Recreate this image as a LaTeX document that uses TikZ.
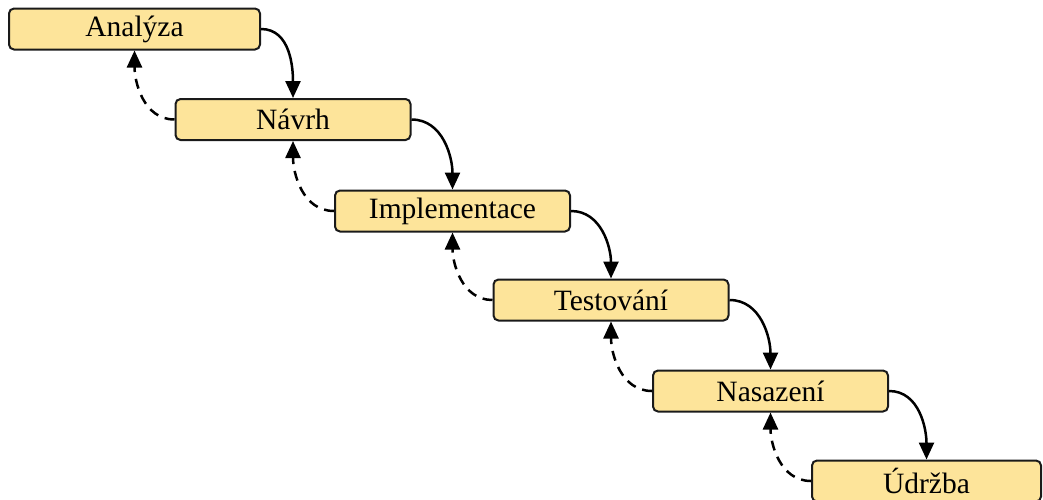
\documentclass[tikz,border=0pt]{standalone}
\usepackage{fontspec}
\setmainfont{Liberation Serif}
\usetikzlibrary{arrows.meta}
\definecolor{phasefill}{HTML}{FDE49A}
\definecolor{phaseline}{HTML}{1A1A1A}
\begin{document}
\begin{tikzpicture}[x=1pt,y=-1pt,
  phase/.style={draw=phaseline, fill=phasefill, line width=2pt, rounded corners=5pt,
    minimum width=235pt, minimum height=41pt, inner sep=0pt,
    font=\fontsize{29.5}{34}\selectfont},
  forward/.style={line width=2.5pt, -{Triangle[length=17pt,width=15pt]}},
  backward/.style={line width=2.5pt, dash pattern=on 10pt off 7pt,
    -{Triangle[length=17pt,width=15pt]}}]
\useasboundingbox (0,0) rectangle (1043,499);
\node[phase, minimum width=251pt] (a) at (134.5,29) {Analýza};
\node[phase] (n) at (293,119.5) {Návrh};
\node[phase] (i) at (452.5,211) {Implementace};
\node[phase] (t) at (611,300) {Testování};
\node[phase] (s) at (770.5,391) {Nasazení};
\node[phase, minimum width=229pt] (u) at (926.5,481) {Údržba};
% forward flow between phases
\foreach \p/\q in {a/n, n/i, i/t, t/s, s/u}
  \draw[forward] (\p.east) to[out=0,in=90] (\q.north);
% feedback to the previous phase
\foreach \p/\q in {n/a, i/n, t/i, s/t, u/s}
  \draw[backward] (\p.west) to[out=180,in=-90] (\q.south);
\end{tikzpicture}
\end{document}
